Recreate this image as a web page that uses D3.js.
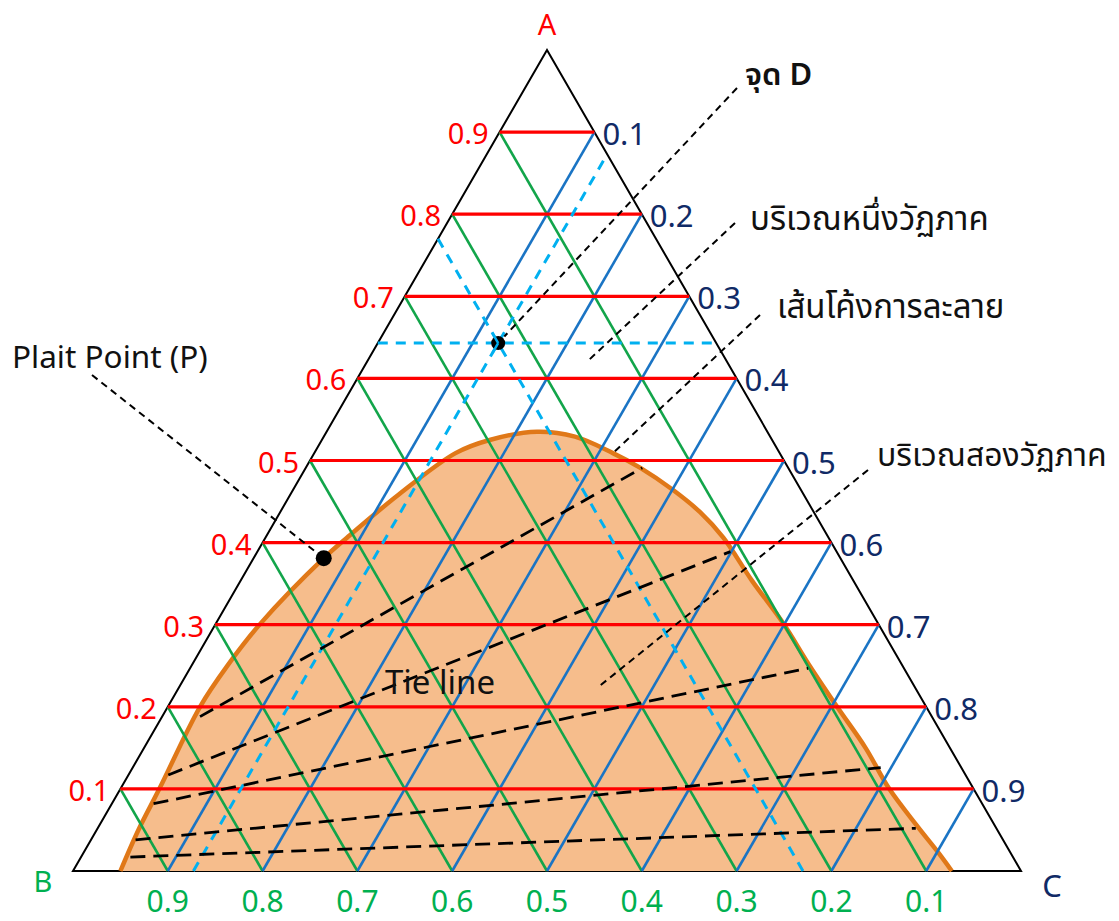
<!DOCTYPE html>
<html>
<head>
<meta charset="utf-8">
<script src="https://cdn.jsdelivr.net/npm/d3@7"></script>
<style>
  html, body { margin: 0; padding: 0; background: #ffffff; }
  svg { display: block; font-family: "Noto Sans", "Noto Sans Thai", "Loma", "Garuda", sans-serif; }
</style>
</head>
<body>
<script>
// Grid tick values (fractions of each component)
const ticks = [0.1, 0.2, 0.3, 0.4, 0.5, 0.6, 0.7, 0.8, 0.9];
const tickLabels = ["0.1", "0.2", "0.3", "0.4", "0.5", "0.6", "0.7", "0.8", "0.9"];

// Binodal (solubility) curve, as compositions: fraction of A and fraction of C
const binodalA = [0.000, 0.050, 0.101, 0.200, 0.251, 0.301, 0.381, 0.406, 0.458, 0.509,
                  0.525, 0.535, 0.529, 0.509, 0.491, 0.464, 0.437, 0.406, 0.354, 0.302,
                  0.251, 0.200, 0.150, 0.101, 0.054, 0.022, 0.000];
const binodalC = [0.050, 0.044, 0.041, 0.034, 0.038, 0.047, 0.074, 0.086, 0.114, 0.149,
                  0.177, 0.222, 0.265, 0.315, 0.353, 0.401, 0.443, 0.483, 0.539, 0.598,
                  0.651, 0.706, 0.761, 0.810, 0.864, 0.902, 0.927];
const plaitIndex = 6;

// Tie lines: raffinate end (left) and extract end (right)
const tieLeftA  = [0.188, 0.117, 0.082, 0.038, 0.017];
const tieLeftC  = [0.040, 0.042, 0.044, 0.047, 0.052];
const tieRightA = [0.491, 0.389, 0.247, 0.126, 0.052];
const tieRightC = [0.355, 0.499, 0.652, 0.789, 0.863];

// Mixture point D
const pointD = { A: 0.643, C: 0.127 };

// Annotation labels and the chart points they refer to
const noteText = ["Plait Point (P)", "จุด D", "บริเวณหนึ่งวัฏภาค", "เส้นโค้งการละลาย", "บริเวณสองวัฏภาค"];
const noteTargetA = [0.381, 0.643, 0.620, 0.509, 0.224];
const noteTargetC = [0.074, 0.127, 0.232, 0.315, 0.442];

const vertexNames = ["A", "B", "C"];
const tieLineLabel = "Tie line";

// ---------------------------------------------------------------
const W = 1119, H = 921;
const svg = d3.select("body").append("svg").attr("width", W).attr("height", H);

// Horizontal position follows C + A/2, vertical position follows A
const x = d3.scaleLinear().domain([0, 1]).range([73, 1021]);
const y = d3.scaleLinear().domain([0, 1]).range([871, 50]);
const pt = (a, c) => [x(c + a / 2), y(a)];

const RED = "#ff0000", GREEN = "#12a54a", BLUE = "#1a74c4", NAVY = "#102a66",
      GREEN_TXT = "#00b050", CYAN = "#00b0f0";

function seg(g, p, q) {
  return g.append("line").attr("x1", p[0]).attr("y1", p[1]).attr("x2", q[0]).attr("y2", q[1]);
}

// Triangle outline
const tri = [pt(1, 0), pt(0, 0), pt(0, 1)];
svg.append("path")
  .attr("d", d3.line()(tri) + "Z")
  .attr("fill", "none").attr("stroke", "#000").attr("stroke-width", 2)
  .attr("stroke-linejoin", "miter");

// Two-phase region under the binodal curve
const curvePts = binodalA.map((a, i) => pt(a, binodalC[i]));
const curveGen = d3.line().curve(d3.curveCatmullRom.alpha(0.5));
svg.append("path")
  .attr("d", curveGen(curvePts) + "Z")
  .attr("fill", "#f6bd8c").attr("stroke", "none");
svg.append("path")
  .attr("d", curveGen(curvePts))
  .attr("fill", "none").attr("stroke", "#e07818").attr("stroke-width", 4.5)
  .attr("stroke-linecap", "butt");

// Grid lines
const grid = svg.append("g");
ticks.forEach(t => {
  seg(grid, pt(0, 1 - t), pt(1 - t, 0)).attr("stroke", GREEN).attr("stroke-width", 2.6);
});
ticks.forEach(t => {
  seg(grid, pt(0, t), pt(1 - t, t)).attr("stroke", BLUE).attr("stroke-width", 2.6);
});
ticks.forEach(t => {
  seg(grid, pt(t, 0), pt(t, 1 - t)).attr("stroke", RED).attr("stroke-width", 3.2);
});

// Construction lines through D
const dB = 1 - pointD.A - pointD.C;
const cons = svg.append("g").attr("stroke", CYAN).attr("stroke-width", 3)
  .attr("stroke-dasharray", "10,8").attr("fill", "none");
seg(cons, pt(pointD.A, 0), pt(pointD.A, 1 - pointD.A));
seg(cons, pt(0, pointD.C), pt(1 - pointD.C, pointD.C));
seg(cons, pt(1 - dB, 0), pt(0, 1 - dB));

// Tie lines
const ties = svg.append("g").attr("stroke", "#000").attr("stroke-width", 2.8)
  .attr("stroke-dasharray", "15,8");
tieLeftA.forEach((a, i) => {
  seg(ties, pt(a, tieLeftC[i]), pt(tieRightA[i], tieRightC[i]));
});

// Plait point and point D
const P = curvePts[plaitIndex];
svg.append("circle").attr("cx", P[0]).attr("cy", P[1]).attr("r", 8).attr("fill", "#000");
const D = pt(pointD.A, pointD.C);
svg.append("circle").attr("cx", D[0]).attr("cy", D[1]).attr("r", 7).attr("fill", "#000");
// construction strokes crossing the dot
const consTop = svg.append("g").attr("stroke", CYAN).attr("stroke-width", 2.5);
[[pt(pointD.A + 0.012, pointD.C - 0.012), D], [pt(pointD.A - 0.012, pointD.C), D]].forEach(s => seg(consTop, s[0], s[1]));

// Tick labels
const labels = svg.append("g");
ticks.forEach((t, i) => {
  const L = pt(t, 0);
  labels.append("text").attr("x", L[0] - 11).attr("y", L[1] + 12)
    .attr("text-anchor", "end").attr("font-size", 29).attr("fill", RED).text(tickLabels[i]);
  const R = pt(t, 1 - t);
  labels.append("text").attr("x", R[0] + 8).attr("y", R[1] + 13)
    .attr("text-anchor", "start").attr("font-size", 31).attr("fill", NAVY)
    .text(tickLabels[ticks.length - 1 - i]);
  const Bt = pt(0, 1 - t);
  labels.append("text").attr("x", Bt[0]).attr("y", Bt[1] + 41)
    .attr("text-anchor", "middle").attr("font-size", 30).attr("fill", GREEN_TXT).text(tickLabels[i]);
});

// Vertex names
const vA = pt(1, 0), vB = pt(0, 0), vC = pt(0, 1);
labels.append("text").attr("x", vA[0]).attr("y", vA[1] - 15).attr("text-anchor", "middle")
  .attr("font-size", 29).attr("fill", RED).text(vertexNames[0]);
labels.append("text").attr("x", vB[0] - 30).attr("y", vB[1] + 21).attr("text-anchor", "middle")
  .attr("font-size", 29).attr("fill", GREEN_TXT).text(vertexNames[1]);
labels.append("text").attr("x", vC[0] + 31).attr("y", vC[1] + 26).attr("text-anchor", "middle")
  .attr("font-size", 31).attr("fill", NAVY).text(vertexNames[2]);

// Tie line caption
labels.append("text").attr("x", 385).attr("y", 694).attr("font-size", 33)
  .attr("fill", "#111").text(tieLineLabel);

// Annotations with dashed leaders
const notePos = [
  { tx: 12,  ty: 368, lx: 92,  ly: 375, font: 31.5, weight: 400 },
  { tx: 745, ty: 85,  lx: 737, ly: 88,  font: 31,   weight: 600 },
  { tx: 750, ty: 230, lx: 735, ly: 223, font: 33,   weight: 400 },
  { tx: 777, ty: 318, lx: 760, ly: 315, font: 33,   weight: 400 },
  { tx: 877, ty: 466, lx: 868, ly: 470, font: 32,   weight: 400 }
];
const leaders = svg.append("g").attr("stroke", "#000").attr("stroke-width", 2)
  .attr("stroke-dasharray", "7,5");
noteText.forEach((txt, i) => {
  const np = notePos[i];
  let T = pt(noteTargetA[i], noteTargetC[i]);
  if (i < 2) {
    // stop just short of the marker
    const dx = T[0] - np.lx, dy = T[1] - np.ly, len = Math.hypot(dx, dy);
    T = [T[0] - dx / len * 9, T[1] - dy / len * 9];
  }
  seg(leaders, [np.lx, np.ly], T);
  svg.append("text").attr("x", np.tx).attr("y", np.ty).attr("font-size", np.font)
    .attr("font-weight", np.weight).attr("fill", "#111").text(txt);
});
</script>
</body>
</html>
